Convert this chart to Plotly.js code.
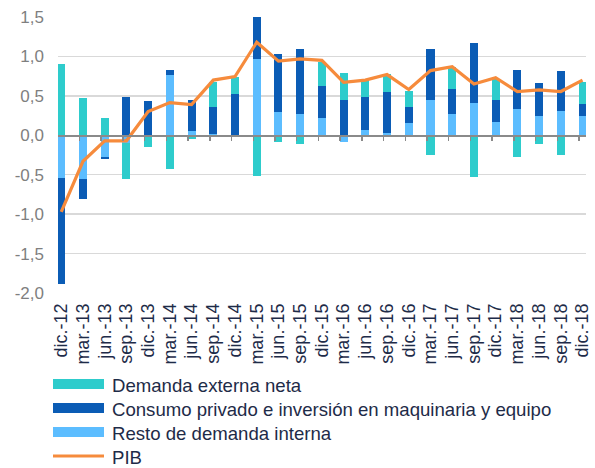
<!DOCTYPE html>
<html>
<head>
<meta charset="utf-8">
<script src="https://cdn.plot.ly/plotly-3.0.1.min.js"></script>
<style>html,body{margin:0;padding:0;background:#fff;}#chart{width:595px;height:468px;}</style>
</head>
<body>
<div id="chart"></div>
<script>
// Quarters
const categories = ['dic.-12','mar.-13','jun.-13','sep.-13','dic.-13','mar.-14','jun.-14','sep.-14','dic.-14',
  'mar.-15','jun.-15','sep.-15','dic.-15','mar.-16','jun.-16','sep.-16','dic.-16','mar.-17','jun.-17',
  'sep.-17','dic.-17','mar.-18','jun.-18','sep.-18','dic.-18'];
// Contributions (pp)
const restoDemandaInterna = [-0.54,-0.56,-0.28,-0.10,0.00,0.77,0.05,0.02,0.00,0.97,0.29,0.27,0.22,-0.09,0.07,0.03,0.15,0.45,0.27,0.41,0.17,0.33,0.25,0.31,0.25];
const consumoInversion = [-1.34,-0.25,-0.02,0.49,0.44,0.06,0.40,0.34,0.52,0.72,0.74,0.82,0.41,0.45,0.42,0.52,0.215,0.64,0.32,0.76,0.28,0.50,0.415,0.50,0.15];
const demandaExterna = [0.90,0.47,0.22,-0.45,-0.15,-0.43,-0.05,0.32,0.225,-0.51,-0.09,-0.11,0.305,0.34,0.21,0.225,0.20,-0.25,0.27,-0.53,0.26,-0.27,-0.11,-0.25,0.28];
const pib = [-0.97,-0.33,-0.07,-0.07,0.30,0.415,0.39,0.70,0.745,1.18,0.94,0.97,0.95,0.67,0.70,0.77,0.58,0.82,0.87,0.65,0.73,0.555,0.575,0.555,0.70];
const yTicks = [-2.0,-1.5,-1.0,-0.5,0.0,0.5,1.0,1.5];
const yTickText = ['-2,0','-1,5','-1,0','-0,5','0,0','0,5','1,0','1,5'];

const names = ['Demanda externa neta','Consumo privado e inversión en maquinaria y equipo','Resto de demanda interna','PIB'];
const colors = {ext:'#2ECCCC', cons:'#0B5CB5', resto:'#5CBDFF', pib:'#F68B3C'};

const FONT = '"Liberation Sans", Arial, sans-serif';
const W = 595, H = 468, ML = 58, MR = 9, MT = 17, MB = 175;
const PW = W - ML - MR, PH = H - MT - MB;
const px2x = p => (p - ML) / PW;
const px2y = p => (H - MB - p) / PH;

const xr = [-0.15, categories.length - 1 + 0.16];
const barW = 0.37;

const traces = [
  {type:'bar', x:categories, y:restoDemandaInterna, name:names[2], marker:{color:colors.resto}, width:barW, showlegend:false, hoverinfo:'skip'},
  {type:'bar', x:categories, y:consumoInversion, name:names[1], marker:{color:colors.cons}, width:barW, showlegend:false, hoverinfo:'skip'},
  {type:'bar', x:categories, y:demandaExterna, name:names[0], marker:{color:colors.ext}, width:barW, showlegend:false, hoverinfo:'skip'},
  {type:'scatter', mode:'lines', x:categories, y:pib, name:names[3], line:{color:colors.pib, width:3.2}, showlegend:false, hoverinfo:'skip'},
  {type:'scatter', mode:'lines', x:[], y:[], xaxis:'x2', showlegend:false, hoverinfo:'skip'}
];

// Custom legend (swatches + labels)
const legendRows = [
  {label:names[0], color:colors.ext, y:384, kind:'bar'},
  {label:names[1], color:colors.cons, y:408, kind:'bar'},
  {label:names[2], color:colors.resto, y:432, kind:'bar'},
  {label:names[3], color:colors.pib, y:456, kind:'line'}
];
const shapes = [];
const annotations = [];
legendRows.forEach(r => {
  if (r.kind === 'bar') {
    shapes.push({type:'rect', xref:'paper', yref:'paper', x0:px2x(53), x1:px2x(104), y0:px2y(r.y-5), y1:px2y(r.y+5), fillcolor:r.color, line:{width:0}});
  } else {
    shapes.push({type:'line', xref:'paper', yref:'paper', x0:px2x(53), x1:px2x(104), y0:px2y(r.y), y1:px2y(r.y), line:{color:r.color, width:3}});
  }
  annotations.push({xref:'paper', yref:'paper', x:px2x(110), y:px2y(r.y+1.5), xanchor:'left', yanchor:'middle', showarrow:false, text:r.label, font:{family:FONT, size:18.6, color:'#1E2B48'}});
});

const layout = {
  width:W, height:H,
  margin:{l:ML, r:MR, t:MT, b:MB, pad:0},
  paper_bgcolor:'#fff', plot_bgcolor:'#fff',
  separators:',.',
  barmode:'relative',
  bargap:0,
  showlegend:false,
  font:{family:FONT},
  xaxis:{type:'category', range:xr, tickangle:-90, ticks:'', showgrid:false, showline:false, zeroline:false,
    tickmode:'array', tickvals:categories, ticktext:categories,
    tickfont:{family:FONT, size:18, color:'#1E2B48'}, ticklabelstandoff:6, automargin:false},
  xaxis2:{type:'linear', overlaying:'x', anchor:'free', position:2/3.5, range:xr,
    tickvals:categories.map((c,i)=>i-0.16), ticks:'outside', ticklen:4, tickwidth:1.5, tickcolor:'#8A8A8A',
    showticklabels:false, showline:true, linecolor:'#8A8A8A', linewidth:1.5, showgrid:false, zeroline:false},
  yaxis:{range:[-2,1.5], tickmode:'array', tickvals:yTicks, ticktext:yTickText, showgrid:true, gridcolor:'#D9D9D9', gridwidth:1.3,
    zeroline:false, showline:false, ticks:'', tickfont:{family:FONT, size:17, color:'#7F7F7F'}, ticklabelstandoff:13, automargin:false},
  shapes:shapes,
  annotations:annotations
};

Plotly.newPlot('chart', traces, layout, {staticPlot:true, displayModeBar:false});
</script>
</body>
</html>
